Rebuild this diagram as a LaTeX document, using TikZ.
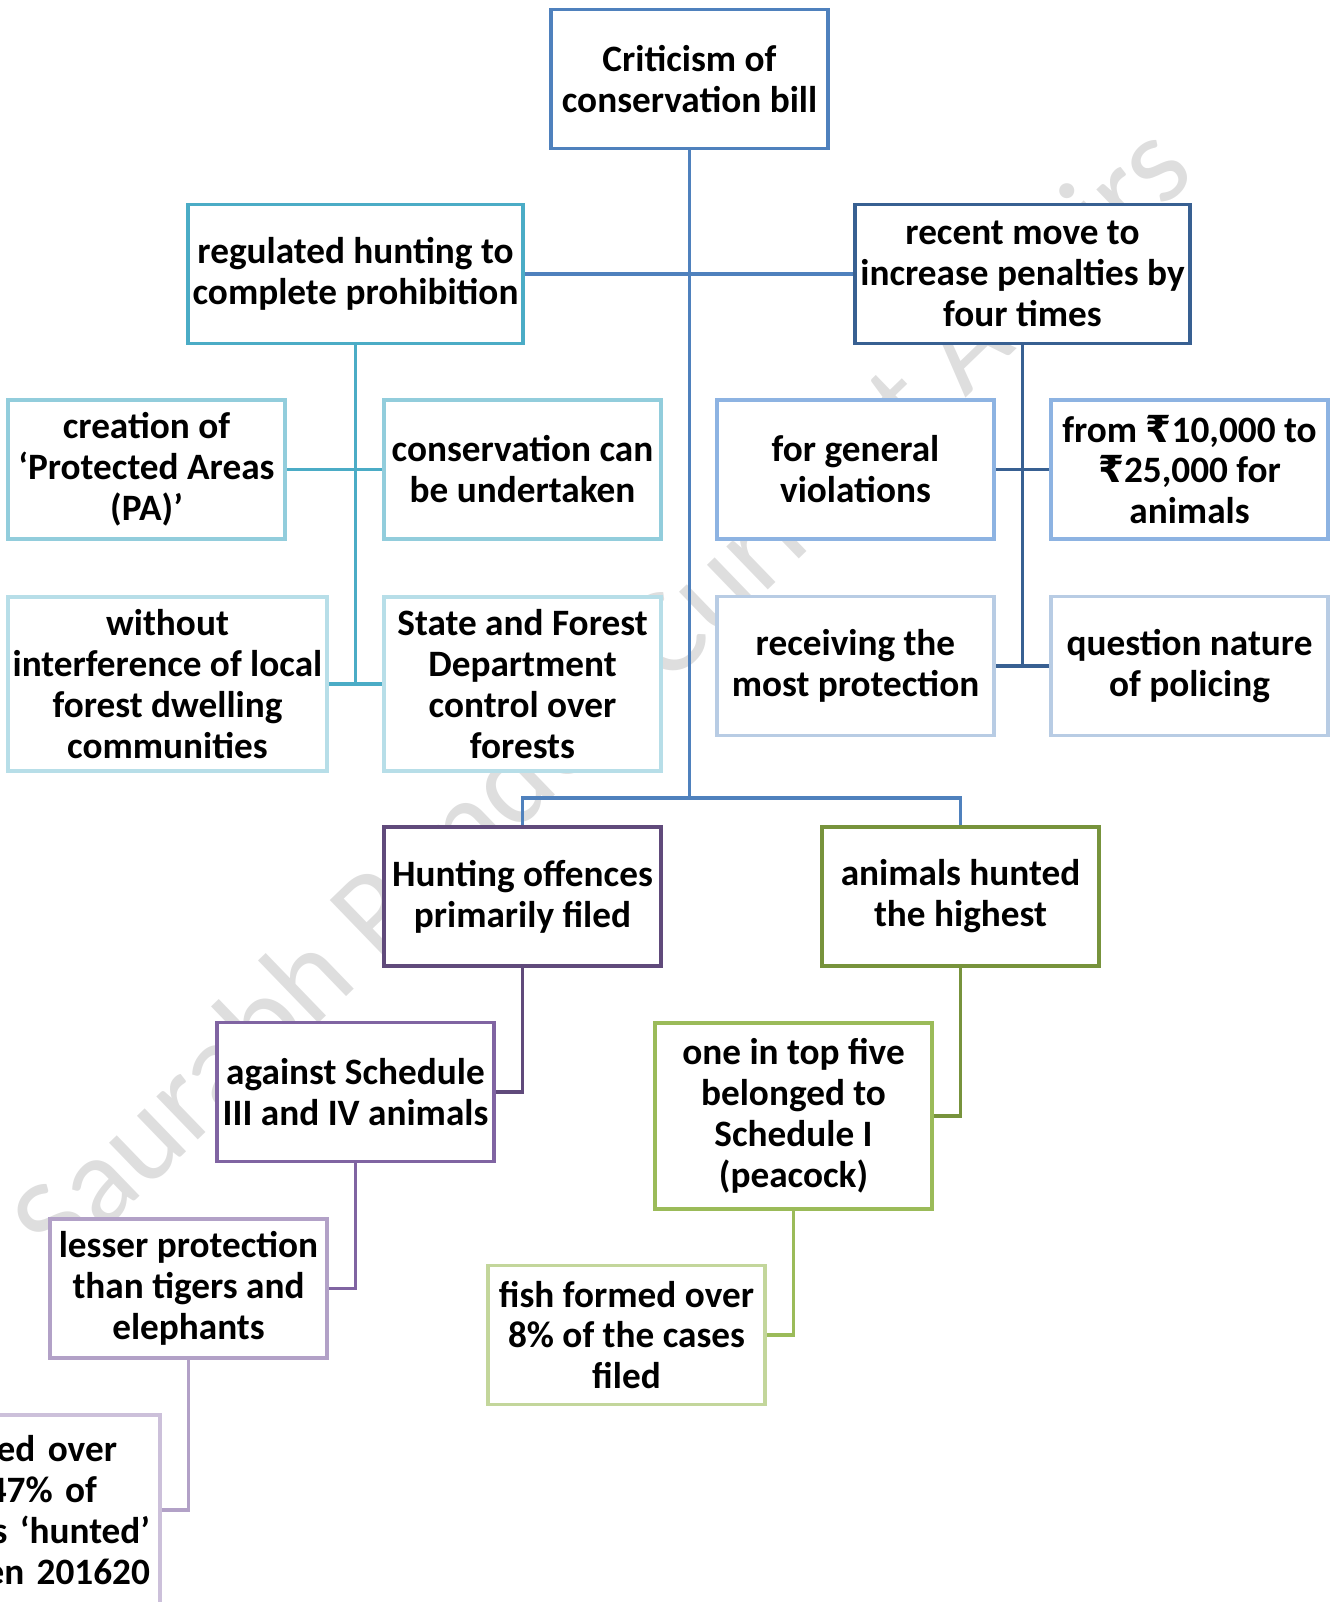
\documentclass[tikz,border=0pt]{standalone}
\usepackage{fontspec}
\setmainfont{Carlito}
\newfontfamily\rupeefont{DejaVu Sans}
\usetikzlibrary{positioning, backgrounds}
\newcommand{\rs}{{\rupeefont\bfseries ₹}}
\definecolor{rootblue}{RGB}{79,129,189}
\definecolor{aqua}{RGB}{75,172,198}
\definecolor{aqualight}{RGB}{146,205,220}
\definecolor{aquapale}{RGB}{183,222,232}
\definecolor{navy}{RGB}{56,96,146}
\definecolor{bluelight}{RGB}{141,179,226}
\definecolor{bluepale}{RGB}{184,204,228}
\definecolor{purpledark}{RGB}{96,74,123}
\definecolor{purple}{RGB}{128,100,162}
\definecolor{purplelight}{RGB}{178,161,199}
\definecolor{purplepale}{RGB}{204,192,218}
\definecolor{olive}{RGB}{119,147,60}
\definecolor{leaf}{RGB}{155,187,89}
\definecolor{leaflight}{RGB}{195,214,155}
\definecolor{markgray}{RGB}{222,222,222}

\begin{document}
\begin{tikzpicture}[x=0.02cm, y=-0.02cm,
    box/.style={draw, line width=2.2pt, fill=white, align=center,
                inner sep=0pt, minimum width=5.54cm, minimum height=2.78cm,
                font=\bfseries\fontsize{21.2}{23.3}\selectfont},
    link/.style={line width=2.2pt}
  ]
  \clip (0,0) rectangle (1333,1602);

  % Top
  \node[box, draw=rootblue] (crit) at (689.5,79) {Criticism of\\conservation bill};
  \node[box, draw=aqua, minimum width=6.7cm] (regulated) at (355.5,274)
        {regulated hunting to\\complete prohibition};
  \node[box, draw=navy, minimum width=6.7cm] (recent) at (1022.5,274)
        {recent move to\\increase penalties by\\four times};

  % Left branch
  \node[box, draw=aqualight] (creation) at (146.5,469.5)
        {creation of\\‘Protected Areas\\(PA)’};
  \node[box, draw=aqualight] (conserve) at (522.5,469.5)
        {conservation can\\be undertaken};
  \node[box, draw=aquapale, minimum width=6.38cm, minimum height=3.48cm] (without)
        at (167.5,684) {without\\interference of local\\forest dwelling\\communities};
  \node[box, draw=aquapale, minimum height=3.48cm] (state) at (522.5,684)
        {State and Forest\\Department\\control over\\forests};

  % Right branch
  \node[box, draw=bluelight] (general) at (855.5,469.5) {for general\\violations};
  \node[box, draw=bluelight] (fromrs) at (1189.5,469.5)
        {from \rs10,000 to\\\rs25,000 for\\animals};
  \node[box, draw=bluepale] (receiving) at (855.5,666) {receiving the\\most protection};
  \node[box, draw=bluepale] (question) at (1189.5,666) {question nature\\of policing};

  % Lower part
  \node[box, draw=purpledark] (hunting) at (522.5,896.5) {Hunting offences\\primarily filed};
  \node[box, draw=olive] (hunted) at (960.5,896.5) {animals hunted\\the highest};
  \node[box, draw=purple] (against) at (355.5,1092) {against Schedule\\III and IV animals};
  \node[box, draw=leaf, minimum height=3.72cm] (topfive) at (793.5,1116)
        {one in top five\\belonged to\\Schedule I\\(peacock)};
  \node[box, draw=purplelight] (lesser) at (188.5,1288.5)
        {lesser protection\\than tigers and\\elephants};
  \node[box, draw=leaflight] (fish) at (626.5,1335)
        {fish formed over\\8\% of the cases\\filed};
  \node[box, draw=purplepale, align=right, text width=5.14cm, inner xsep=0.2cm,
        minimum height=3.8cm] (birds) at (21.5,1510)
        {ed over\makebox[0.66cm]{}\\47\% of\makebox[1.06cm]{}\\s ‘hunted’\\en 201620};

  \coordinate (split) at (689.5,798);

  \begin{scope}[on background layer]
    % watermark
    \node[rotate=44, text=markgray] (mark) at (606,700)
          {\resizebox{31.6cm}{!}{Saurabh Pandey Current Affairs}};

    \draw[link, rootblue] (crit.south) -- (split);
    \draw[link, rootblue] (regulated.east) -- (recent.west);
    \draw[link, rootblue] (hunting.north) |- (split) -| (hunted.north);

    \draw[link, aqua] (regulated.south) -- (regulated.south |- without.east);
    \draw[link, aqua] (creation.east) -- (conserve.west);
    \draw[link, aqua] (without.east) -- (state.west);

    \draw[link, navy] (recent.south) -- (recent.south |- receiving.east);
    \draw[link, navy] (general.east) -- (fromrs.west);
    \draw[link, navy] (receiving.east) -- (question.west);

    \draw[link, purpledark] (hunting.south) |- (against.east);
    \draw[link, purple] (against.south) |- (lesser.east);
    \draw[link, purplelight] (lesser.south) |- (birds.east);
    \draw[link, olive] (hunted.south) |- (topfive.east);
    \draw[link, leaf] (topfive.south) |- (fish.east);
  \end{scope}
\end{tikzpicture}
\end{document}
